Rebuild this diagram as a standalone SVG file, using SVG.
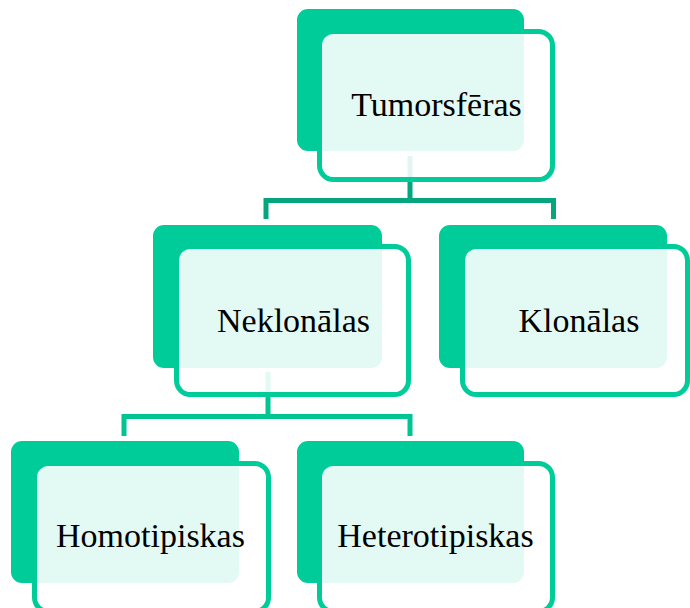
<svg xmlns="http://www.w3.org/2000/svg" width="690" height="608" viewBox="0 0 690 608">
<style>
.back{fill:#00CC99}
.front{fill:#ffffff;fill-opacity:0.89;stroke:#00CC99;stroke-width:5}
.lbl{font-family:"Liberation Serif","Times New Roman",serif;font-size:34px;fill:#000000;text-anchor:middle}
.c1{fill:none;stroke:#05A57E;stroke-width:5}
.c2{fill:none;stroke:#00C491;stroke-width:5}
</style>
<rect width="690" height="608" fill="#ffffff"/>
<g id="connectors">
<path class="c1" d="M410,156 V200.5 M266,219 V200.5 H553.5 V219"/>
<path class="c2" d="M268,372 V416.5 M124,436 V416.5 H410 V436"/>
</g>
<g id="tumorsferas">
<rect class="back" x="297" y="9" width="227" height="142" rx="11"/>
<rect class="front" x="319.5" y="31.5" width="233" height="148" rx="14"/>
<text class="lbl" x="436.5" y="116">Tumorsfēras</text>
</g>
<g id="neklonalas">
<rect class="back" x="153" y="225" width="229" height="143" rx="11"/>
<rect class="front" x="176.5" y="246.5" width="232" height="148" rx="14"/>
<text class="lbl" x="293.5" y="332">Neklonālas</text>
</g>
<g id="klonalas">
<rect class="back" x="439" y="225" width="228" height="143" rx="11"/>
<rect class="front" x="462.5" y="246.5" width="225" height="148" rx="14"/>
<text class="lbl" x="579" y="332">Klonālas</text>
</g>
<g id="homotipiskas">
<rect class="back" x="11" y="441" width="228" height="142" rx="11"/>
<rect class="front" x="34.5" y="463.5" width="234" height="148" rx="14"/>
<text class="lbl" x="150.5" y="547">Homotipiskas</text>
</g>
<g id="heterotipiskas">
<rect class="back" x="297" y="441" width="227" height="142" rx="11"/>
<rect class="front" x="319.5" y="463.5" width="233" height="148" rx="14"/>
<text class="lbl" x="435.5" y="547">Heterotipiskas</text>
</g>
</svg>
